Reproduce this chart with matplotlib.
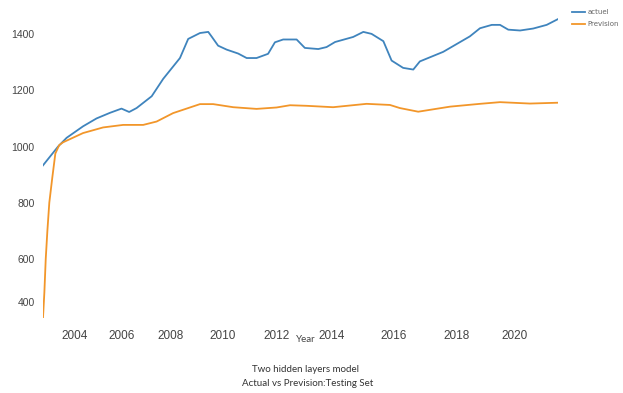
import matplotlib
matplotlib.use("Agg")
import matplotlib.pyplot as plt
import matplotlib.transforms as mtransforms

# Observed series (decimal year, value)
actual_years = [2002.84, 2003.39, 2003.70, 2004.30, 2004.79, 2005.28, 2005.70, 2005.98,
                2006.25, 2006.80, 2007.22, 2007.83, 2008.13, 2008.56, 2008.86, 2008.98,
                2009.22, 2009.53, 2009.95, 2010.26, 2010.62, 2011.04, 2011.29, 2011.59,
                2012.08, 2012.38, 2012.87, 2013.17, 2013.48, 2014.14, 2014.51, 2014.81,
                2015.24, 2015.54, 2015.96, 2016.33, 2016.57, 2017.42, 2018.39, 2018.76,
                2019.19, 2019.49, 2019.79, 2020.22, 2020.70, 2021.19, 2021.61]
actual_values = [933, 1000, 1031, 1072, 1100, 1120, 1135, 1123,
                 1137, 1179, 1241, 1315, 1383, 1404, 1408, 1392,
                 1359, 1345, 1331, 1315, 1315, 1330, 1371, 1381,
                 1381, 1351, 1347, 1354, 1372, 1390, 1408, 1401,
                 1375, 1306, 1280, 1274, 1303, 1337, 1392, 1421,
                 1433, 1433, 1416, 1413, 1420, 1433, 1454]

forecast_years = [2002.84, 2002.89, 2002.94, 2003.00, 2003.07, 2003.18, 2003.29, 2003.43,
                  2003.57, 2004.30, 2005.03, 2005.76, 2006.49, 2006.98, 2007.58, 2008.56,
                  2009.04, 2009.77, 2010.62, 2011.35, 2011.84, 2012.44, 2013.41, 2014.63,
                  2015.48, 2015.84, 2016.51, 2017.67, 2018.76, 2019.49, 2020.58, 2021.61]
forecast_values = [390, 480, 600, 700, 800, 890, 975, 1005,
                   1015, 1048, 1068, 1077, 1077, 1089, 1119, 1151,
                   1151, 1140, 1134, 1139, 1147, 1145, 1140, 1152,
                   1148, 1137, 1124, 1142, 1152, 1158, 1153, 1156]

y_ticks = [400, 600, 800, 1000, 1200, 1400]
x_tick_labels = ["2004", "2006", "2008", "2010", "2012", "2014", "2016", "2018", "2020"]
x_tick_pos = [2004.0, 2005.70, 2007.49, 2009.38, 2011.35, 2013.36, 2015.63, 2017.91, 2020.01]

fig = plt.figure(figsize=(6.23, 3.93), dpi=100)
ax = fig.add_axes([0.069, 0.191, 0.827, 0.765])

ax.plot(actual_years, actual_values, color="#3f84bd", lw=1.3, label="actuel",
        solid_joinstyle="round")
ax.plot(forecast_years, forecast_values, color="#f2962a", lw=1.3, label="Prevision",
        solid_joinstyle="round")

ax.set_xlim(actual_years[0], actual_years[-1])
ax.set_ylim(390, 1460)

for s in ax.spines.values():
    s.set_visible(False)

ax.set_yticks(y_ticks)
ax.set_yticklabels([str(v) for v in y_ticks], fontsize=7.5, family="Liberation Sans",
                   color="#444444")
ax.set_xticks(x_tick_pos)
ax.set_xticklabels(x_tick_labels, fontsize=8.5, family="Liberation Sans", color="#444444")
ax.tick_params(axis="both", length=0)
ax.tick_params(axis="y", pad=6)
ax.tick_params(axis="x", pad=9)

# lift the lowest y label a little
lbl = ax.get_yticklabels()[0]
lbl.set_transform(lbl.get_transform() +
                  mtransforms.ScaledTranslation(0, 13 / 100, fig.dpi_scale_trans))

ax.set_xlabel("Year", fontsize=7, family="Lato", color="#444444")
ax.xaxis.set_label_coords((306 - 43) / 515.3, -0.058)

fig.text(0.49, 1 - 369 / 393, "Two hidden layers model", ha="center", va="center",
         fontsize=7, family="Lato", color="#333333")
fig.text(0.494, 1 - 383 / 393, "Actual vs Prevision:Testing Set", ha="center", va="center",
         fontsize=7, family="Lato", color="#333333")

fig.legend(loc="upper left", bbox_to_anchor=(566 / 623, 1 - 3 / 393), frameon=False,
           fontsize=5, handlelength=1.8, handletextpad=0.4, labelspacing=0.85,
           labelcolor="#666666")

fig.savefig("out.png", dpi=100, facecolor="white")
